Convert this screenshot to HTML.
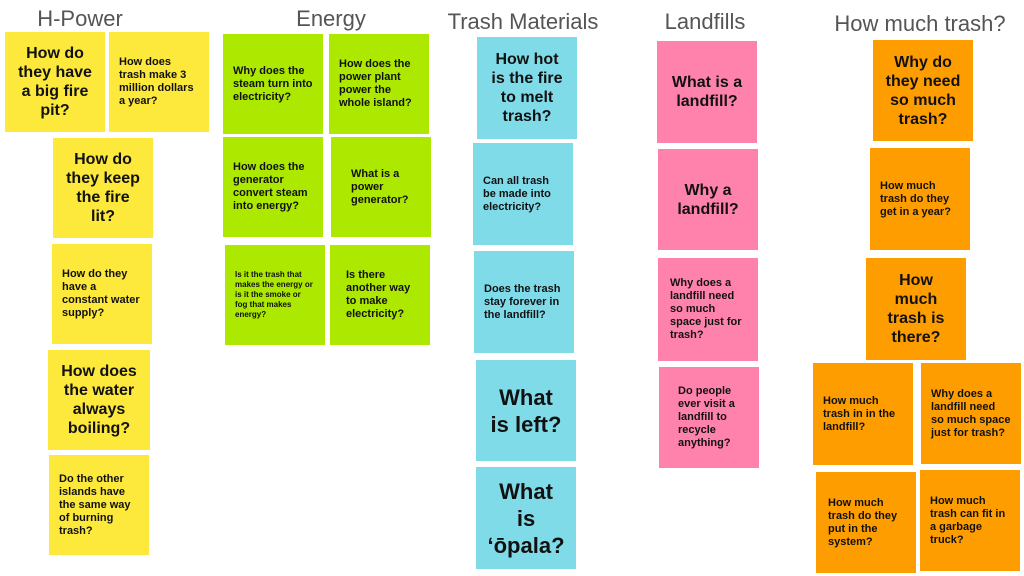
<!DOCTYPE html>
<html><head><meta charset="utf-8"><style>
body{margin:0;width:1024px;height:576px;background:#fff;position:relative;overflow:hidden;font-family:"Liberation Sans",sans-serif}
.h{position:absolute;color:#555;font-size:22px;transform:translateX(-50%);white-space:nowrap;top:6px}
.n{position:absolute;width:100px;height:100px;display:flex;align-items:center;box-sizing:border-box;padding:0 10px;font-weight:bold;color:#111;font-size:11px;line-height:13px}
.c{justify-content:center;text-align:center;padding:0 9px}
.y{background:#fde83c}.g{background:#ace800}.b{background:#80dbe9}.p{background:#ff82ac}.o{background:#fe9d00}
.L{font-size:16px;line-height:19px}.X{font-size:22px;line-height:27px;padding:0 14px}
</style></head><body>
<div class="h" style="left:80px">H-Power</div>
<div class="h" style="left:331px">Energy</div>
<div class="h" style="left:523px;top:9px">Trash Materials</div>
<div class="h" style="left:705px;top:9px">Landfills</div>
<div class="h" style="left:920px;top:11px">How much trash?</div>

<div class="n y c L" style="left:5px;top:32px">How do they have a big fire pit?</div>
<div class="n y" style="left:109px;top:32px">How does trash make 3 million dollars a year?</div>
<div class="n y c L" style="left:53px;top:138px">How do<br>they keep<br>the fire<br>lit?</div>
<div class="n y" style="left:52px;top:244px">How do they have a constant water supply?</div>
<div class="n y c L" style="left:48px;top:350px;width:102px">How does the water always boiling?</div>
<div class="n y" style="left:49px;top:455px">Do the other islands have the same way of burning trash?</div>

<div class="n g" style="left:223px;top:34px">Why does the steam turn into electricity?</div>
<div class="n g" style="left:329px;top:34px">How does the power plant power the whole island?</div>
<div class="n g" style="left:223px;top:137px">How does the generator convert steam into energy?</div>
<div class="n g" style="left:331px;top:137px;padding-left:20px">What is a power generator?</div>
<div class="n g" style="left:225px;top:245px;font-size:8px;line-height:10px">Is it the trash that makes the energy or is it the smoke or fog that makes energy?</div>
<div class="n g" style="left:330px;top:245px;padding-left:16px">Is there another way to make electricity?</div>

<div class="n b c L" style="left:477px;top:37px;height:102px">How hot<br>is the fire<br>to melt<br>trash?</div>
<div class="n b" style="left:473px;top:143px;height:102px">Can all trash be made into electricity?</div>
<div class="n b" style="left:474px;top:251px;height:102px">Does the trash stay forever in the landfill?</div>
<div class="n b c X" style="left:476px;top:360px;height:101px">What is left?</div>
<div class="n b c X" style="left:476px;top:467px;height:102px">What<br>is<br>ʻōpala?</div>

<div class="n p c L" style="left:657px;top:41px;height:102px">What is a landfill?</div>
<div class="n p c L" style="left:658px;top:149px;height:101px">Why a landfill?</div>
<div class="n p" style="left:658px;top:258px;height:103px;padding-left:12px">Why does a landfill need so much space just for trash?</div>
<div class="n p" style="left:659px;top:367px;height:101px;padding-left:19px">Do people ever visit a landfill to recycle anything?</div>

<div class="n o c L" style="left:873px;top:40px;height:101px">Why do they need so much trash?</div>
<div class="n o" style="left:870px;top:148px;height:102px">How much trash do they get in a year?</div>
<div class="n o c L" style="left:866px;top:258px;height:102px;padding:0 16px">How much trash is there?</div>
<div class="n o" style="left:813px;top:363px;height:102px">How much trash in in the landfill?</div>
<div class="n o" style="left:921px;top:363px;height:101px">Why does a landfill need so much space just for trash?</div>
<div class="n o" style="left:816px;top:472px;height:101px;padding-left:12px">How much trash do they put in the system?</div>
<div class="n o" style="left:920px;top:470px;height:101px">How much trash can fit in a garbage truck?</div>
</body></html>
